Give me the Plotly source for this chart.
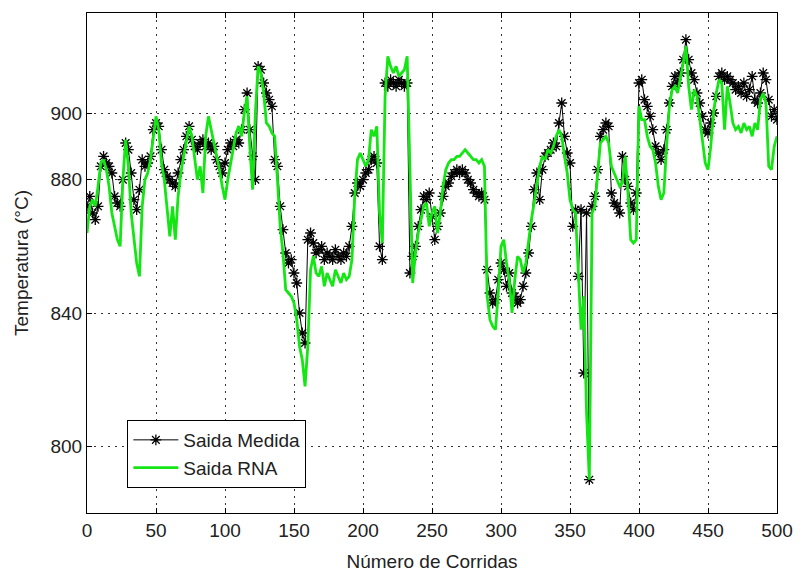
import plotly.graph_objects as go

runs = list(range(0, 501, 2))

saida_medida = [
    872, 875, 870, 868, 872, 884, 887, 885, 884, 882,
    875, 873, 872, 880, 891, 889, 882, 874, 871, 877,
    886, 884, 885, 887, 895, 897, 896, 889, 883, 881,
    880, 879, 878, 882, 886, 889, 893, 896, 892, 890,
    889, 891, 892, 890, 891, 889, 890, 886, 884, 882,
    885, 889, 891, 890, 892, 891, 895, 901, 906, 895,
    887, 880, 914, 913, 909, 906, 904, 902, 886, 884,
    872, 865, 858, 855, 856, 852, 849, 840, 834, 831,
    862, 864, 861, 858, 859, 860, 856, 858, 857, 856,
    859, 857, 856, 858, 857, 860, 866, 876, 879, 878,
    880, 882, 883, 886, 887, 885, 860, 856, 909, 908,
    910, 909, 908, 910, 909, 908, 909, 852, 857, 860,
    866, 871, 875, 874, 876, 869, 862, 866, 870, 875,
    878, 879, 881, 882, 883, 882, 883, 882, 880, 879,
    877, 876, 875, 876, 874, 853, 846, 843, 844, 850,
    855, 853, 848, 852, 846, 845, 843, 844, 848, 852,
    858, 866, 877, 882, 874, 883, 887, 888, 889, 891,
    890, 897, 903, 893, 888, 885, 866, 871, 851, 871,
    822, 870, 790, 872, 875, 883, 893, 895, 897, 896,
    876, 873, 872, 870, 887, 880, 878, 873, 871, 876,
    909, 910, 904, 902, 899, 895, 890, 888, 886, 889,
    895, 903, 908, 911, 909, 912, 916, 922, 916, 912,
    910, 906, 903, 899, 895, 894, 897, 900, 905, 911,
    912, 910, 911, 910, 909, 907, 908, 906, 909, 905,
    907, 911, 904, 903, 906, 912, 910, 904, 899, 901,
    898,
]

saida_rna = [
    864, 872, 874, 872, 878, 885, 886, 883, 878, 870,
    866, 862, 860, 880, 892, 884, 870, 862, 855, 851,
    872, 880, 882, 886, 893, 899, 895, 885, 880, 872,
    863, 872, 862, 875, 882, 887, 892, 896, 893, 886,
    880, 884, 876, 893, 899, 895, 891, 888, 883, 878,
    874, 880, 885, 890, 894, 896, 893, 900, 905, 890,
    877, 900, 914, 912, 906, 897, 896, 894, 893, 880,
    866, 858, 847, 846, 845, 843, 838, 830, 826, 818,
    830, 853, 857, 852, 851, 854, 848, 852, 850, 848,
    853, 851, 849, 852, 850, 851, 856, 875, 886, 888,
    886, 884, 886, 895, 893, 896, 870, 861, 905, 917,
    914, 912, 914, 911, 912, 913, 917, 880, 849, 858,
    864, 868, 872, 873, 866, 870, 872, 864, 870, 878,
    883, 885, 886, 886, 887, 887, 888, 889, 888, 887,
    886, 886, 885, 886, 884, 845, 838, 836, 835, 846,
    860, 862, 855, 850, 840, 850, 857, 856, 852, 855,
    862, 868, 873, 879, 884, 887, 886, 889, 888, 890,
    893, 895, 893, 887, 882, 874, 871, 870, 852, 835,
    845, 810, 790, 870, 872, 882, 891, 892, 893, 891,
    884, 882, 880, 878, 879, 887, 876, 862, 861, 862,
    902, 898, 898, 893, 890, 889, 885, 878, 874, 876,
    890, 902, 907, 908, 906, 910, 915, 920, 908, 901,
    907, 905, 898, 892, 885, 883, 890, 900, 906, 910,
    909, 895, 908, 903, 897, 895, 896, 894, 897, 895,
    896, 893, 897, 895, 904, 906, 903, 884, 883, 890,
    893,
]

x_ticks = [0, 50, 100, 150, 200, 250, 300, 350, 400, 450, 500]
y_ticks = [800, 840, 880, 900]

FONT = "Liberation Sans, Arial, sans-serif"

fig = go.Figure()
fig.add_trace(go.Scatter(
    x=runs, y=saida_medida, name="Saida Medida", mode="lines+markers",
    line=dict(color="black", width=1),
    marker=dict(symbol="asterisk-open", size=9, color="black",
                line=dict(color="black", width=1.3)),
))
fig.add_trace(go.Scatter(
    x=runs, y=saida_rna, name="Saida RNA", mode="lines",
    line=dict(color="#14e614", width=2.8),
))

axis_common = dict(
    showline=True, linecolor="black", linewidth=1, mirror="ticks",
    ticks="inside", ticklen=5, tickcolor="black",
    showgrid=True, gridcolor="#333333", gridwidth=1, griddash="2px,5px",
    zeroline=False,
    tickfont=dict(family=FONT, size=19, color="#222"),
)

fig.update_xaxes(
    range=[0, 500], tickvals=x_ticks,
    title=dict(text="Número de Corridas", font=dict(family=FONT, size=19, color="#222"), standoff=14),
    **axis_common,
)
fig.update_yaxes(
    range=[780, 930], tickvals=y_ticks,
    title=dict(text="Temperatura (°C)", font=dict(family=FONT, size=19, color="#222"), standoff=16),
    **axis_common,
)

fig.update_layout(
    width=805, height=580,
    margin=dict(l=87, r=17, t=12, b=59),
    paper_bgcolor="white", plot_bgcolor="white",
    showlegend=True,
    legend=dict(
        x=0.0585, y=0.186, xanchor="left", yanchor="top",
        bgcolor="white", bordercolor="black", borderwidth=1,
        font=dict(family=FONT, size=19, color="#222"),
        itemwidth=45, tracegroupgap=0,
    ),
)

fig.write_html("out.html")
